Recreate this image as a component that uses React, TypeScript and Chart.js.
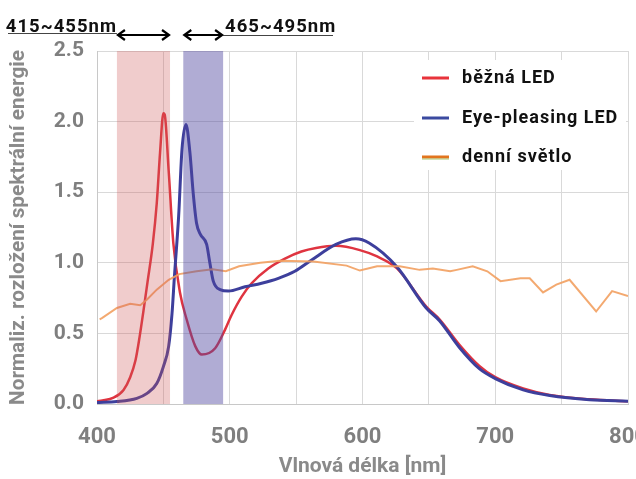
import { useEffect, useRef } from "react"
import { Chart, registerables } from "chart.js"

Chart.register(...registerables)

// values (wavelength nm -> normalized energy)
const redNm = [400, 404, 412.5, 420, 425, 429, 432, 435, 438, 442, 445, 447.5, 450, 451, 454, 457.5, 462.5, 467.5, 474, 479, 489, 496.4, 501.4, 509, 516.5, 529, 541.6, 554, 565, 580, 598, 611, 626, 648, 658, 673, 688, 700, 721, 741, 771, 800]
const redVals = [0.02, 0.025, 0.045, 0.1, 0.19, 0.31, 0.47, 0.66, 0.86, 1.13, 1.42, 1.78, 2.06, 2.05, 1.65, 1.14, 0.79, 0.6, 0.41, 0.35, 0.395, 0.525, 0.63, 0.76, 0.855, 0.96, 1.03, 1.08, 1.105, 1.12, 1.09, 1.045, 0.96, 0.69, 0.6, 0.42, 0.27, 0.19, 0.11, 0.064, 0.033, 0.02]

const blueNm = [400, 415, 430, 437.7, 445, 450, 454, 456.5, 458.3, 461.5, 464, 467, 470, 472.5, 475, 478, 482.6, 485, 487.6, 492.7, 499, 511.5, 524, 536.6, 549, 561.7, 580, 595, 605, 626, 648, 658, 673, 688, 700, 721, 741, 771, 800]
const blueVals = [0.01, 0.017, 0.04, 0.075, 0.145, 0.265, 0.41, 0.64, 0.9, 1.33, 1.8, 1.98, 1.78, 1.49, 1.28, 1.2, 1.13, 1.0, 0.87, 0.81, 0.8, 0.83, 0.855, 0.89, 0.94, 1.02, 1.13, 1.17, 1.14, 0.97, 0.68, 0.59, 0.4, 0.25, 0.18, 0.1, 0.06, 0.03, 0.02]

const dayNm = [402, 404, 415, 425, 432.6, 437.7, 445, 454, 462, 475, 487, 497, 507, 523, 538, 563, 588, 598, 611, 628, 643, 653, 666, 671, 683, 694, 704, 719, 726, 736, 746, 756, 776, 788, 800]
const dayVals = [0.6, 0.61, 0.68, 0.71, 0.7, 0.74, 0.81, 0.88, 0.92, 0.94, 0.955, 0.94, 0.975, 1.0, 1.015, 1.01, 0.98, 0.945, 0.975, 0.975, 0.95, 0.96, 0.94, 0.95, 0.975, 0.94, 0.87, 0.89, 0.89, 0.79, 0.845, 0.88, 0.655, 0.8, 0.765]

const seriesLabels = ["běžná LED", "Eye-pleasing LED", "denní světlo"]
const violetBand = [415, 455]
const blueBand = [465, 495]
const bandLabels = ["415~455nm", "465~495nm"]
const xTickLabels = [400, 500, 600, 700, 800]
const yTickLabels = ["0.0", "0.5", "1.0", "1.5", "2.0", "2.5"]

const NARROW = "'Liberation Sans Narrow', 'Roboto', sans-serif"

const toPoints = (xs: number[], ys: number[]) => xs.map((x, i) => ({ x, y: ys[i] }))

function drawArrow(ctx: CanvasRenderingContext2D, x1: number, x2: number, y: number) {
  ctx.beginPath()
  ctx.moveTo(x1 + 1, y)
  ctx.lineTo(x2 - 1, y)
  ctx.moveTo(x1 + 8, y - 5)
  ctx.lineTo(x1 + 1, y)
  ctx.lineTo(x1 + 8, y + 5)
  ctx.moveTo(x2 - 8, y - 5)
  ctx.lineTo(x2 - 1, y)
  ctx.lineTo(x2 - 8, y + 5)
  ctx.stroke()
}

const overlayPlugin = {
  id: "overlay",
  afterDatasetsDraw(chart: any) {
    const { ctx, chartArea: a, scales } = chart
    const x = scales.x
    ctx.save()
    const v1 = x.getPixelForValue(violetBand[0])
    const v2 = x.getPixelForValue(violetBand[1])
    ctx.fillStyle = "rgba(205, 85, 85, 0.3)"
    ctx.fillRect(v1, a.top, v2 - v1, a.bottom - a.top)
    const b1 = x.getPixelForValue(blueBand[0])
    const b2 = x.getPixelForValue(blueBand[1])
    ctx.fillStyle = "rgba(80, 72, 160, 0.45)"
    ctx.fillRect(b1, a.top, b2 - b1, a.bottom - a.top)
    ctx.restore()
  },
  afterDraw(chart: any) {
    const { ctx, scales } = chart
    const x = scales.x
    ctx.save()

    // legend
    ctx.fillStyle = "#ffffff"
    ctx.fillRect(414, 60, 212, 110)
    const colors = ["#e8333b", "#3b4aa0", "#e2751e"]
    const rows = [78, 118, 157]
    ctx.font = "bold 18px Roboto"
    ;(ctx as any).letterSpacing = "1px"
    ctx.textBaseline = "middle"
    rows.forEach((ry, i) => {
      ctx.fillStyle = colors[i]
      ctx.fillRect(422, ry - 1.5, 27, 3)
      if (i === 2) {
        ctx.fillStyle = "#a9c46c"
        ctx.fillRect(422, ry + 1.5, 27, 1)
      }
      ctx.fillStyle = "#111111"
      ctx.fillText(seriesLabels[i], 462, ry)
    })

    // band annotations above the plot
    const v1 = x.getPixelForValue(violetBand[0])
    const v2 = x.getPixelForValue(violetBand[1])
    const b1 = x.getPixelForValue(blueBand[0])
    const b2 = x.getPixelForValue(blueBand[1])
    ctx.font = "bold 18.5px Roboto"
    ctx.textBaseline = "alphabetic"
    ctx.fillStyle = "#111111"
    ctx.textAlign = "right"
    ctx.fillText(bandLabels[0], v1, 32)
    ctx.textAlign = "left"
    ctx.fillText(bandLabels[1], b2 + 2, 32)
    ;(ctx as any).letterSpacing = "0px"

    ctx.strokeStyle = "#444444"
    ctx.lineWidth = 1
    ctx.beginPath()
    ctx.moveTo(8, 33.5)
    ctx.lineTo(v1, 33.5)
    ctx.moveTo(b2, 35.5)
    ctx.lineTo(333, 35.5)
    ctx.stroke()

    ctx.strokeStyle = "#000000"
    ctx.lineWidth = 2.2
    drawArrow(ctx, v1, v2, 35)
    drawArrow(ctx, b1, b2, 35)
    ctx.restore()
  },
}

export default function App() {
  const canvasRef = useRef<HTMLCanvasElement>(null)
  const chartInstance = useRef<Chart | null>(null)

  useEffect(() => {
    if (!canvasRef.current) return
    if (chartInstance.current) chartInstance.current.destroy()

    chartInstance.current = new Chart(canvasRef.current, {
      type: "line",
      data: {
        datasets: [
          {
            label: seriesLabels[2],
            data: toPoints(dayNm, dayVals),
            borderColor: "rgba(242, 160, 96, 0.9)",
            borderWidth: 2,
            pointRadius: 0,
            tension: 0,
          },
          {
            label: seriesLabels[1],
            data: toPoints(blueNm, blueVals),
            borderColor: "#3d3f9c",
            borderWidth: 3,
            pointRadius: 0,
            cubicInterpolationMode: "monotone",
          },
          {
            label: seriesLabels[0],
            data: toPoints(redNm, redVals),
            borderColor: "#df3440",
            borderWidth: 2.5,
            pointRadius: 0,
            cubicInterpolationMode: "monotone",
          },
        ],
      },
      options: {
        animation: false,
        responsive: true,
        maintainAspectRatio: false,
        layout: { padding: { top: 51, right: 8, left: 0, bottom: 0 } },
        plugins: {
          legend: { display: false },
          tooltip: { enabled: false },
        },
        scales: {
          x: {
            type: "linear",
            min: 400,
            max: 800,
            ticks: {
              stepSize: 50,
              autoSkip: false,
              maxRotation: 0,
              padding: 20,
              color: "#7f7f7f",
              font: { family: NARROW, size: 22, weight: "bold" },
              callback: (v: any) => (xTickLabels.includes(Number(v)) ? String(v) : ""),
            },
            grid: { color: "#d9d9d9", drawTicks: false },
            border: { color: "#c8c8c8" },
            title: {
              display: true,
              text: "Vlnová délka [nm]",
              color: "#8a8a8a",
              font: { family: NARROW, size: 21, weight: "bold" },
              padding: { top: 0, bottom: 0 },
            },
            afterFit: (s: any) => {
              s.height = 75
              s.paddingLeft = 0
              s.paddingRight = 0
            },
          },
          y: {
            min: 0,
            max: 2.5,
            ticks: {
              stepSize: 0.5,
              padding: 13,
              color: "#7f7f7f",
              font: { family: NARROW, size: 21, weight: "bold" },
              callback: (v: any) => yTickLabels[Math.round(Number(v) * 2)] ?? "",
            },
            grid: { color: "#d9d9d9", drawTicks: false },
            border: { color: "#c8c8c8" },
            title: {
              display: true,
              text: "Normaliz. rozložení spektrální energie",
              color: "#8a8a8a",
              font: { family: NARROW, size: 20.8, weight: "bold" },
              padding: { top: 6, bottom: 0 },
            },
            afterFit: (s: any) => {
              s.width = 97
              s.paddingTop = 0
              s.paddingBottom = 0
            },
          },
        },
      },
      plugins: [overlayPlugin],
    } as any)

    return () => {
      if (chartInstance.current) {
        chartInstance.current.destroy()
        chartInstance.current = null
      }
    }
  }, [])

  return (
    <div style={{ position: "fixed", left: 0, top: 0, width: 636, height: 479, background: "#ffffff" }}>
      <canvas ref={canvasRef}></canvas>
    </div>
  )
}
